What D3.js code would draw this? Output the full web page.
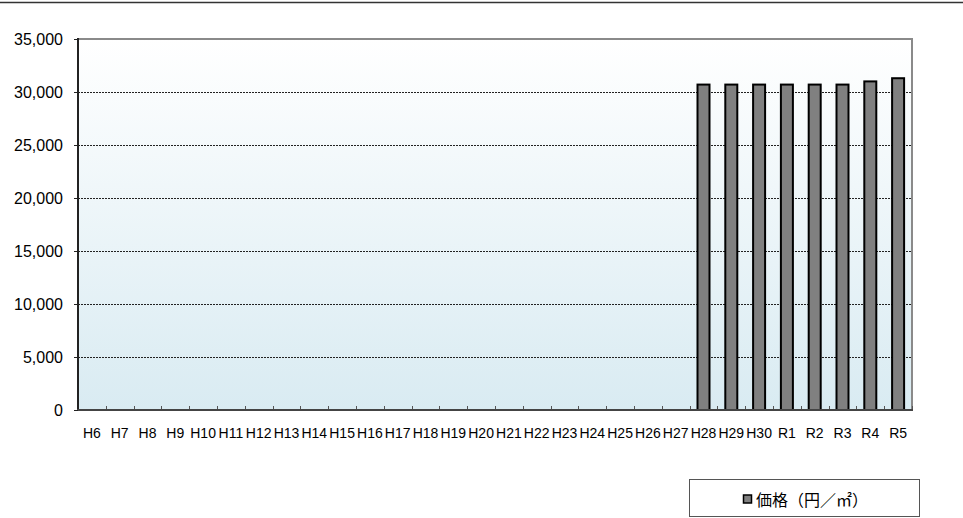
<!DOCTYPE html>
<html><head><meta charset="utf-8">
<script src="https://cdn.jsdelivr.net/npm/d3@7"></script>
<style>body{margin:0;background:#fff;}svg{display:block;}</style>
</head><body>
<svg id="c" width="963" height="518"></svg>
<script>
const categories = ["H6","H7","H8","H9","H10","H11","H12","H13","H14","H15","H16","H17","H18","H19","H20","H21","H22","H23","H24","H25","H26","H27","H28","H29","H30","R1","R2","R3","R4","R5"];
const values = [null,null,null,null,null,null,null,null,null,null,null,null,null,null,null,null,null,null,null,null,null,null,30700,30700,30700,30700,30700,30700,31000,31300];
const yTicks = [0,5000,10000,15000,20000,25000,30000,35000];
const seriesName = "価格（円／㎡）";

const svg = d3.select("#c");
const L = 78, R = 912, T = 39, B = 410;
const font = "'Liberation Sans', Arial, sans-serif";

svg.append("line").attr("x1",0).attr("x2",963).attr("y1",2.5).attr("y2",2.5).attr("stroke","#333").attr("stroke-width",1.5);

const x = d3.scaleBand().domain(categories).range([L,R]).paddingInner(0).paddingOuter(0);
const y = d3.scaleLinear().domain([0,35000]).range([B,T]);

const defs = svg.append("defs");
const grad = defs.append("linearGradient").attr("id","bg").attr("x1",0).attr("y1",0).attr("x2",0).attr("y2",1);
grad.append("stop").attr("offset","0%").attr("stop-color","#ffffff");
grad.append("stop").attr("offset","100%").attr("stop-color","#d9ebf2");
svg.append("rect").attr("x",L).attr("y",T).attr("width",R-L).attr("height",B-T).attr("fill","url(#bg)");

// gridlines
svg.append("g").selectAll("line").data(yTicks.filter(d=>d>0 && d<35000)).join("line")
  .attr("x1",L).attr("x2",R).attr("y1",d=>Math.round(y(d))+0.5).attr("y2",d=>Math.round(y(d))+0.5)
  .attr("stroke","#222").attr("stroke-width",1).attr("stroke-dasharray","2,1");

// frame top and right
svg.append("path").attr("d",`M${L},${T}H${R}V${B}`).attr("fill","none").attr("stroke","#8a8a8a").attr("stroke-width",2);

// category tick marks (inside, upward)
const bounds = categories.slice(1).map(c=>x(c)).concat([R]);
svg.append("g").selectAll("line").data(bounds).join("line")
  .attr("x1",d=>Math.round(d)+0.5).attr("x2",d=>Math.round(d)+0.5).attr("y1",B).attr("y2",B-4)
  .attr("stroke","#555").attr("stroke-width",1);

// bars
const bw = 12;
svg.append("g").selectAll("rect").data(categories.map((c,i)=>({c,v:values[i]})).filter(d=>d.v!=null)).join("rect")
  .attr("x",d=>x(d.c)+x.bandwidth()/2-bw/2).attr("width",bw)
  .attr("y",d=>y(d.v)).attr("height",d=>B-y(d.v))
  .attr("fill","#808080").attr("stroke","#000").attr("stroke-width",2);

// axes lines
svg.append("line").attr("x1",L).attr("x2",L).attr("y1",T-1).attr("y2",B+1).attr("stroke","#222").attr("stroke-width",2);
svg.append("line").attr("x1",L-1).attr("x2",R+1).attr("y1",B).attr("y2",B).attr("stroke","#444").attr("stroke-width",2);
// y ticks left
svg.append("g").selectAll("line").data(yTicks).join("line")
  .attr("x1",L-4).attr("x2",L).attr("y1",d=>Math.round(y(d))+0.5).attr("y2",d=>Math.round(y(d))+0.5)
  .attr("stroke","#222");

// y labels
const fmt = d3.format(",");
svg.append("g").selectAll("text").data(yTicks).join("text")
  .attr("x",63).attr("y",d=>y(d)).attr("dy","0.36em").attr("text-anchor","end")
  .attr("font-family",font).attr("font-size",16).attr("fill","#000").text(d=>fmt(d));

// x labels
svg.append("g").selectAll("text").data(categories).join("text")
  .attr("x",d=>x(d)+x.bandwidth()/2).attr("y",438).attr("text-anchor","middle")
  .attr("font-family",font).attr("font-size",14).attr("fill","#000").text(d=>d);

// legend
const lg = svg.append("g");
lg.append("rect").attr("x",689.5).attr("y",479.5).attr("width",230).attr("height",37).attr("fill","#fff").attr("stroke","#555").attr("stroke-width",1);
lg.append("rect").attr("x",743.5).attr("y",495).attr("width",8).attr("height",8).attr("fill","#808080").attr("stroke","#000").attr("stroke-width",1.5);
lg.append("text").attr("x",756).attr("y",505.5).attr("font-family","'Noto Sans CJK JP', sans-serif").attr("font-size",16).attr("fill","#000").text(seriesName);
</script>
</body></html>
